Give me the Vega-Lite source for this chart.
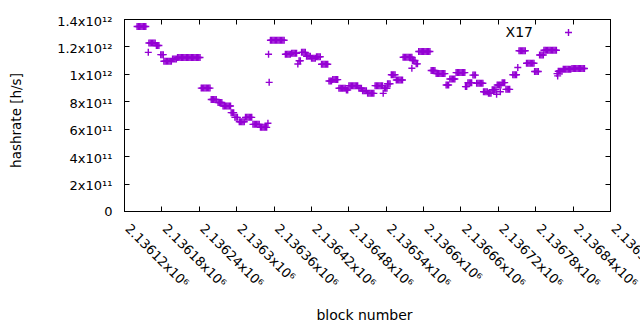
{
  "$schema": "https://vega.github.io/schema/vega-lite/v6.json",
  "width": 486,
  "height": 192,
  "autosize": {"type": "none"},
  "padding": {"left": 124, "top": 19, "right": 30, "bottom": 119},
  "background": "white",
  "config": {
    "view": {"stroke": "black", "strokeWidth": 1},
    "font": "DejaVu Sans",
    "axis": {"grid": false, "domainColor": "black", "tickColor": "black", "labelColor": "black", "titleColor": "black", "titleFontWeight": "normal", "labelFont": "DejaVu Sans", "titleFont": "DejaVu Sans", "labelFontSize": 13, "tickWidth": 1, "domainWidth": 1}
  },
  "data": {"values": [
    {"b":2136141,"h":1.345e12},{"b":2136143,"h":1.345e12},{"b":2136145,"h":1.345e12},{"b":2136147,"h":1.345e12},{"b":2136149,"h":1.345e12},{"b":2136151,"h":1.345e12},{"b":2136153,"h":1.345e12},{"b":2136155,"h":1.345e12},
    {"b":2136159,"h":1.157e12},
    {"b":2136160,"h":1.225e12},{"b":2136162,"h":1.225e12},{"b":2136164,"h":1.225e12},{"b":2136166,"h":1.225e12},{"b":2136168,"h":1.225e12},{"b":2136170,"h":1.225e12},
    {"b":2136172,"h":1.207e12},{"b":2136174,"h":1.207e12},{"b":2136176,"h":1.207e12},
    {"b":2136179,"h":1.14e12},{"b":2136181,"h":1.14e12},{"b":2136183,"h":1.14e12},
    {"b":2136184,"h":1.092e12},{"b":2136186,"h":1.092e12},{"b":2136188,"h":1.092e12},{"b":2136190,"h":1.092e12},{"b":2136192,"h":1.092e12},{"b":2136194,"h":1.092e12},{"b":2136196,"h":1.092e12},
    {"b":2136198,"h":1.108e12},{"b":2136200,"h":1.108e12},{"b":2136202,"h":1.108e12},{"b":2136204,"h":1.108e12},
    {"b":2136206,"h":1.119e12},{"b":2136208,"h":1.119e12},{"b":2136210,"h":1.119e12},{"b":2136212,"h":1.119e12},{"b":2136214,"h":1.119e12},{"b":2136216,"h":1.119e12},{"b":2136218,"h":1.119e12},{"b":2136220,"h":1.119e12},{"b":2136222,"h":1.119e12},{"b":2136224,"h":1.119e12},{"b":2136226,"h":1.119e12},{"b":2136228,"h":1.119e12},{"b":2136230,"h":1.119e12},{"b":2136232,"h":1.119e12},{"b":2136234,"h":1.119e12},{"b":2136236,"h":1.119e12},{"b":2136238,"h":1.119e12},{"b":2136240,"h":1.119e12},{"b":2136242,"h":1.119e12},
    {"b":2136244,"h":0.896e12},{"b":2136246,"h":0.896e12},{"b":2136248,"h":0.896e12},{"b":2136250,"h":0.896e12},{"b":2136252,"h":0.896e12},{"b":2136254,"h":0.896e12},{"b":2136256,"h":0.896e12},{"b":2136258,"h":0.896e12},
    {"b":2136260,"h":0.813e12},{"b":2136262,"h":0.813e12},{"b":2136264,"h":0.813e12},{"b":2136266,"h":0.813e12},{"b":2136268,"h":0.813e12},
    {"b":2136271,"h":0.791e12},{"b":2136273,"h":0.791e12},{"b":2136275,"h":0.791e12},{"b":2136277,"h":0.791e12},
    {"b":2136279,"h":0.766e12},{"b":2136281,"h":0.766e12},{"b":2136283,"h":0.766e12},{"b":2136285,"h":0.766e12},{"b":2136287,"h":0.766e12},{"b":2136289,"h":0.766e12},{"b":2136291,"h":0.766e12},
    {"b":2136292,"h":0.717e12},{"b":2136294,"h":0.717e12},{"b":2136296,"h":0.717e12},
    {"b":2136298,"h":0.683e12},{"b":2136300,"h":0.683e12},{"b":2136302,"h":0.683e12},
    {"b":2136305,"h":0.651e12},{"b":2136307,"h":0.651e12},{"b":2136309,"h":0.651e12},{"b":2136311,"h":0.651e12},{"b":2136313,"h":0.651e12},
    {"b":2136315,"h":0.683e12},{"b":2136317,"h":0.683e12},{"b":2136319,"h":0.683e12},{"b":2136321,"h":0.683e12},{"b":2136323,"h":0.683e12},{"b":2136325,"h":0.683e12},
    {"b":2136327,"h":0.632e12},{"b":2136329,"h":0.632e12},{"b":2136331,"h":0.632e12},{"b":2136333,"h":0.632e12},{"b":2136335,"h":0.632e12},{"b":2136337,"h":0.632e12},
    {"b":2136339,"h":0.61e12},{"b":2136341,"h":0.61e12},{"b":2136343,"h":0.61e12},{"b":2136345,"h":0.61e12},{"b":2136347,"h":0.61e12},{"b":2136349,"h":0.61e12},
    {"b":2136351,"h":0.64e12},{"b":2136352,"h":1.143e12},{"b":2136353,"h":0.938e12},
    {"b":2136355,"h":1.245e12},{"b":2136357,"h":1.245e12},{"b":2136359,"h":1.245e12},{"b":2136361,"h":1.245e12},{"b":2136363,"h":1.245e12},{"b":2136365,"h":1.245e12},{"b":2136367,"h":1.245e12},{"b":2136369,"h":1.245e12},{"b":2136371,"h":1.245e12},{"b":2136373,"h":1.245e12},{"b":2136375,"h":1.245e12},{"b":2136377,"h":1.245e12},
    {"b":2136379,"h":1.143e12},{"b":2136381,"h":1.143e12},{"b":2136383,"h":1.143e12},{"b":2136385,"h":1.143e12},{"b":2136387,"h":1.143e12},
    {"b":2136389,"h":1.15e12},{"b":2136391,"h":1.15e12},{"b":2136393,"h":1.15e12},{"b":2136395,"h":1.15e12},{"b":2136397,"h":1.15e12},
    {"b":2136399,"h":1.072e12},{"b":2136401,"h":1.096e12},{"b":2136403,"h":1.096e12},
    {"b":2136405,"h":1.157e12},{"b":2136407,"h":1.157e12},{"b":2136409,"h":1.157e12},{"b":2136411,"h":1.157e12},
    {"b":2136413,"h":1.128e12},{"b":2136415,"h":1.128e12},{"b":2136417,"h":1.128e12},{"b":2136419,"h":1.128e12},
    {"b":2136421,"h":1.113e12},{"b":2136423,"h":1.113e12},{"b":2136425,"h":1.113e12},{"b":2136427,"h":1.113e12},
    {"b":2136429,"h":1.125e12},{"b":2136431,"h":1.125e12},{"b":2136433,"h":1.125e12},{"b":2136435,"h":1.125e12},
    {"b":2136437,"h":1.07e12},{"b":2136439,"h":1.07e12},{"b":2136441,"h":1.07e12},{"b":2136443,"h":1.07e12},{"b":2136445,"h":1.07e12},{"b":2136447,"h":1.07e12},
    {"b":2136449,"h":0.948e12},{"b":2136451,"h":0.948e12},{"b":2136453,"h":0.948e12},
    {"b":2136455,"h":0.958e12},{"b":2136457,"h":0.958e12},{"b":2136459,"h":0.958e12},{"b":2136461,"h":0.958e12},{"b":2136463,"h":0.958e12},
    {"b":2136465,"h":0.895e12},{"b":2136467,"h":0.895e12},{"b":2136469,"h":0.895e12},{"b":2136471,"h":0.895e12},{"b":2136473,"h":0.895e12},{"b":2136475,"h":0.895e12},
    {"b":2136477,"h":0.882e12},{"b":2136479,"h":0.882e12},
    {"b":2136481,"h":0.914e12},{"b":2136483,"h":0.914e12},{"b":2136485,"h":0.914e12},{"b":2136487,"h":0.914e12},{"b":2136489,"h":0.914e12},{"b":2136491,"h":0.914e12},{"b":2136493,"h":0.914e12},{"b":2136495,"h":0.914e12},
    {"b":2136497,"h":0.895e12},{"b":2136499,"h":0.895e12},{"b":2136501,"h":0.895e12},
    {"b":2136503,"h":0.877e12},{"b":2136505,"h":0.877e12},{"b":2136507,"h":0.877e12},{"b":2136509,"h":0.877e12},
    {"b":2136511,"h":0.858e12},{"b":2136513,"h":0.858e12},{"b":2136515,"h":0.858e12},{"b":2136517,"h":0.858e12},{"b":2136519,"h":0.858e12},{"b":2136521,"h":0.858e12},
    {"b":2136523,"h":0.914e12},{"b":2136525,"h":0.914e12},{"b":2136527,"h":0.914e12},{"b":2136529,"h":0.914e12},{"b":2136531,"h":0.914e12},{"b":2136533,"h":0.914e12},{"b":2136535,"h":0.914e12},
    {"b":2136536,"h":0.858e12},{"b":2136538,"h":0.895e12},{"b":2136540,"h":0.895e12},{"b":2136542,"h":0.895e12},
    {"b":2136543,"h":0.928e12},{"b":2136545,"h":0.928e12},{"b":2136547,"h":0.928e12},
    {"b":2136549,"h":0.994e12},{"b":2136551,"h":0.994e12},{"b":2136553,"h":0.994e12},{"b":2136555,"h":0.994e12},
    {"b":2136557,"h":0.955e12},{"b":2136559,"h":0.955e12},{"b":2136561,"h":0.955e12},{"b":2136563,"h":0.955e12},{"b":2136565,"h":0.955e12},{"b":2136567,"h":0.955e12},
    {"b":2136568,"h":1.121e12},{"b":2136570,"h":1.121e12},{"b":2136572,"h":1.121e12},{"b":2136574,"h":1.121e12},{"b":2136576,"h":1.121e12},{"b":2136578,"h":1.121e12},{"b":2136580,"h":1.121e12},{"b":2136582,"h":1.121e12},
    {"b":2136582,"h":1.041e12},{"b":2136583,"h":1.097e12},{"b":2136585,"h":1.097e12},{"b":2136587,"h":1.097e12},
    {"b":2136589,"h":1.073e12},{"b":2136591,"h":1.073e12},
    {"b":2136593,"h":1.163e12},{"b":2136595,"h":1.163e12},{"b":2136597,"h":1.163e12},{"b":2136599,"h":1.163e12},{"b":2136601,"h":1.163e12},{"b":2136603,"h":1.163e12},{"b":2136605,"h":1.163e12},{"b":2136607,"h":1.163e12},{"b":2136609,"h":1.163e12},{"b":2136611,"h":1.163e12},
    {"b":2136613,"h":1.024e12},{"b":2136615,"h":1.024e12},{"b":2136617,"h":1.024e12},{"b":2136619,"h":1.024e12},
    {"b":2136621,"h":1.002e12},{"b":2136623,"h":1.002e12},{"b":2136625,"h":1.002e12},{"b":2136627,"h":1.002e12},{"b":2136629,"h":1.002e12},{"b":2136631,"h":1.002e12},{"b":2136633,"h":1.002e12},{"b":2136635,"h":1.002e12},
    {"b":2136637,"h":0.919e12},{"b":2136639,"h":0.919e12},{"b":2136641,"h":0.919e12},
    {"b":2136643,"h":0.963e12},{"b":2136645,"h":0.963e12},{"b":2136647,"h":0.963e12},{"b":2136649,"h":0.963e12},{"b":2136651,"h":0.963e12},
    {"b":2136653,"h":1.009e12},{"b":2136655,"h":1.009e12},{"b":2136657,"h":1.009e12},{"b":2136659,"h":1.009e12},{"b":2136661,"h":1.009e12},{"b":2136663,"h":1.009e12},{"b":2136665,"h":1.009e12},{"b":2136667,"h":1.009e12},
    {"b":2136668,"h":0.907e12},{"b":2136670,"h":0.907e12},
    {"b":2136672,"h":0.936e12},{"b":2136674,"h":0.936e12},{"b":2136676,"h":0.936e12},{"b":2136678,"h":0.936e12},
    {"b":2136680,"h":0.991e12},{"b":2136682,"h":0.991e12},{"b":2136684,"h":0.991e12},
    {"b":2136686,"h":0.931e12},{"b":2136688,"h":0.931e12},{"b":2136690,"h":0.931e12},{"b":2136692,"h":0.931e12},{"b":2136694,"h":0.931e12},{"b":2136696,"h":0.931e12},
    {"b":2136697,"h":0.87e12},{"b":2136699,"h":0.87e12},{"b":2136701,"h":0.87e12},{"b":2136703,"h":0.87e12},
    {"b":2136705,"h":0.858e12},{"b":2136707,"h":0.858e12},{"b":2136709,"h":0.858e12},
    {"b":2136711,"h":0.885e12},{"b":2136713,"h":0.885e12},{"b":2136715,"h":0.885e12},{"b":2136717,"h":0.885e12},{"b":2136718,"h":0.851e12},
    {"b":2136719,"h":0.919e12},{"b":2136721,"h":0.919e12},{"b":2136723,"h":0.919e12},{"b":2136725,"h":0.919e12},{"b":2136724,"h":0.87e12},
    {"b":2136727,"h":0.936e12},{"b":2136729,"h":0.936e12},{"b":2136731,"h":0.936e12},
    {"b":2136733,"h":0.887e12},{"b":2136735,"h":0.887e12},{"b":2136737,"h":0.887e12},{"b":2136739,"h":0.887e12},
    {"b":2136744,"h":0.994e12},{"b":2136746,"h":0.994e12},{"b":2136748,"h":0.994e12},{"b":2136750,"h":0.994e12},
    {"b":2136752,"h":1.046e12},
    {"b":2136754,"h":1.169e12},{"b":2136756,"h":1.169e12},{"b":2136758,"h":1.169e12},{"b":2136760,"h":1.169e12},{"b":2136762,"h":1.169e12},{"b":2136764,"h":1.169e12},
    {"b":2136766,"h":1.077e12},{"b":2136768,"h":1.077e12},{"b":2136770,"h":1.077e12},{"b":2136772,"h":1.077e12},{"b":2136774,"h":1.077e12},{"b":2136776,"h":1.077e12},{"b":2136778,"h":1.077e12},
    {"b":2136779,"h":1.017e12},{"b":2136781,"h":1.017e12},{"b":2136783,"h":1.017e12},{"b":2136785,"h":1.017e12},
    {"b":2136787,"h":1.137e12},{"b":2136789,"h":1.137e12},{"b":2136791,"h":1.137e12},{"b":2136793,"h":1.137e12},
    {"b":2136794,"h":1.172e12},{"b":2136796,"h":1.172e12},{"b":2136798,"h":1.172e12},{"b":2136800,"h":1.172e12},{"b":2136802,"h":1.172e12},{"b":2136804,"h":1.172e12},{"b":2136806,"h":1.172e12},{"b":2136808,"h":1.172e12},{"b":2136810,"h":1.172e12},{"b":2136812,"h":1.172e12},{"b":2136814,"h":1.172e12},
    {"b":2136815,"h":1.002e12},{"b":2136816,"h":0.985e12},
    {"b":2136817,"h":1.019e12},{"b":2136819,"h":1.019e12},{"b":2136821,"h":1.019e12},{"b":2136823,"h":1.019e12},
    {"b":2136825,"h":1.034e12},{"b":2136827,"h":1.034e12},{"b":2136829,"h":1.034e12},{"b":2136831,"h":1.034e12},{"b":2136833,"h":1.034e12},{"b":2136835,"h":1.034e12},{"b":2136837,"h":1.034e12},
    {"b":2136839,"h":1.039e12},{"b":2136841,"h":1.039e12},{"b":2136843,"h":1.039e12},{"b":2136845,"h":1.039e12},{"b":2136847,"h":1.039e12},{"b":2136849,"h":1.039e12},{"b":2136851,"h":1.039e12},{"b":2136853,"h":1.039e12},{"b":2136855,"h":1.039e12},{"b":2136857,"h":1.039e12},{"b":2136859,"h":1.039e12}
  ]},
  "layer": [
    {
      "mark": {"type": "point", "shape": "M-1,0H1M0,-1V1", "filled": false, "strokeWidth": 1.4, "size": 49, "opacity": 1},
      "encoding": {
        "x": {"field": "b", "type": "quantitative",
          "scale": {"domain": [2136120, 2136900], "nice": false, "zero": false},
          "axis": {"title": "block number", "values": [2136120,2136180,2136240,2136300,2136360,2136420,2136480,2136540,2136600,2136660,2136720,2136780,2136840,2136900],
            "labelExpr": "format(datum.value/1e6,'.5~f')+'x10⁶'",
            "labelAngle": 45, "labelAlign": "left", "labelBaseline": "top", "labelPadding": 16, "labelOffset": 7, "labelOverlap": false, "labelBound": false, "labelFlush": false,
            "tickSize": -5, "titleFontSize": 14, "titleX": 240, "titleY": 104, "titleBaseline": "middle", "titleAlign": "center"}},
        "y": {"field": "h", "type": "quantitative",
          "scale": {"domain": [0, 1.4e12], "nice": false, "zero": true},
          "axis": {"title": "hashrate [h/s]", "values": [0,2e11,4e11,6e11,8e11,1e12,1.2e12,1.4e12],
            "labelExpr": "datum.value==0?'0':datum.value<9.9e11?format(datum.value/1e11,'.0f')+'x10¹¹':format(datum.value/1e12,'.1~f')+'x10¹²'",
            "labelPadding": 17, "labelOffset": {"condition": {"test": "datum.value > 0", "value": 2}, "value": 0}, "labelOverlap": false, "labelBound": false, "labelFlush": false,
            "tickSize": -5, "titleFontSize": 13.5, "titleX": -108, "titleY": 101, "titleBaseline": "middle", "titleAlign": "center"}},
        "color": {"datum": "X17", "scale": {"range": ["#9400d3"]},
          "legend": {"title": null, "orient": "none", "legendX": 437.5, "legendY": 6.5, "padding": 0,
            "symbolType": "M-1,0H1M0,-1V1", "symbolSize": 49, "symbolStrokeWidth": 1.4, "symbolFillColor": "transparent",
            "labelAlign": "right", "labelOffset": -42.5, "labelFontSize": 14, "labelColor": "black", "labelFont": "DejaVu Sans"}}
      }
    },
    {
      "mark": {"type": "point", "opacity": 0},
      "encoding": {
        "x": {"field": "b", "type": "quantitative",
          "axis": {"orient": "top", "title": null, "labels": false, "tickSize": -5, "values": [2136120,2136180,2136240,2136300,2136360,2136420,2136480,2136540,2136600,2136660,2136720,2136780,2136840,2136900]}},
        "y": {"field": "h", "type": "quantitative",
          "axis": {"orient": "right", "title": null, "labels": false, "tickSize": -5, "values": [0,2e11,4e11,6e11,8e11,1e12,1.2e12,1.4e12]}}
      }
    }
  ],
  "resolve": {"axis": {"x": "independent", "y": "independent"}}
}
